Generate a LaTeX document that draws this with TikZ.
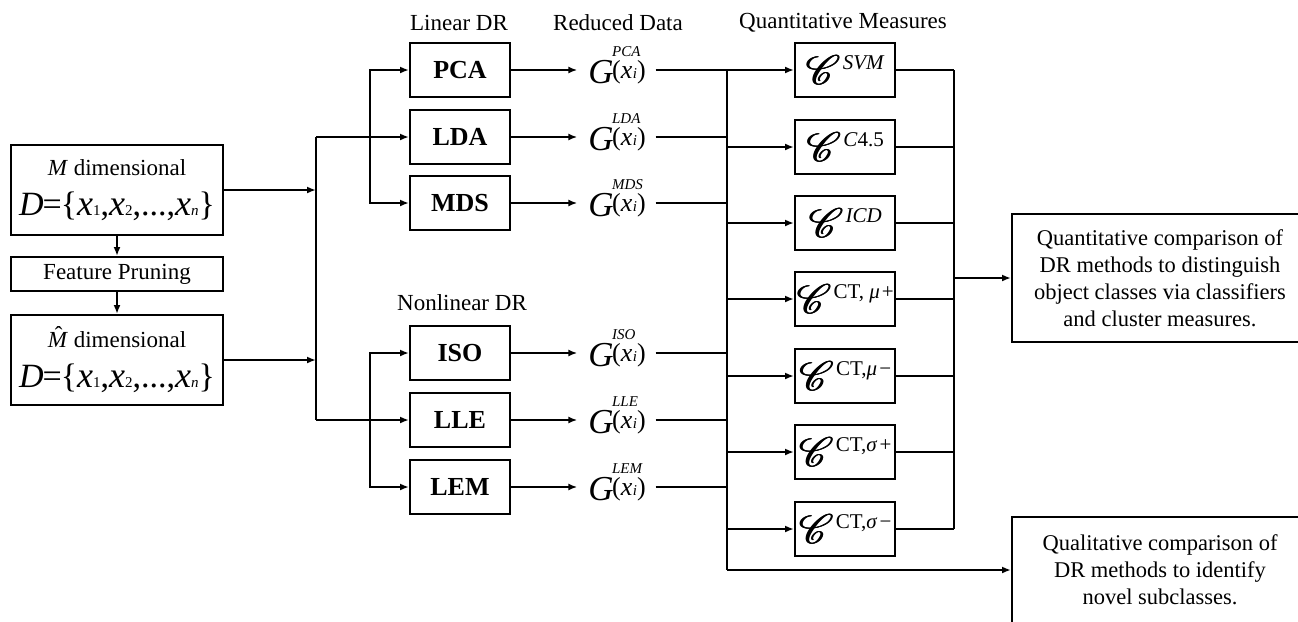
\documentclass[tikz,border=0pt]{standalone}
\usepackage{fontspec}
\setmainfont{Liberation Serif}
\usepackage{graphicx}
\usepackage{mathrsfs}
\usetikzlibrary{arrows.meta}

% reduced data term  G^{method}(x_i)
\newcommand{\Gterm}[1]{{\fontsize{35}{35}\selectfont\itshape G}\kern-1.5pt\rlap{\raisebox{27pt}{\fontsize{15}{15}\selectfont\itshape #1}}\raisebox{4.5pt}{\fontsize{26}{26}\selectfont(\textit{x}\kern0.5pt{\fontsize{15}{15}\selectfont\textit{i}})}}
% script C drawn slightly heavier
\newcommand{\Cglyph}{\scalebox{1.65}{$\mathscr{C}$}}
\newcommand{\Cbold}{\rlap{\Cglyph}\kern0.5pt\rlap{\Cglyph}\kern0.5pt\Cglyph}
% quantitative measure  C^{measure}
\newcommand{\Cterm}[1]{{\fontsize{34}{34}\selectfont\Cbold}\kern2pt\raisebox{15pt}{\fontsize{21}{21}\selectfont #1}}
% data set D = {x_1, x_2, ..., x_n}
\newcommand{\Dsub}[1]{{\fontsize{15}{15}\selectfont #1}}
\newcommand{\Dx}{{\fontsize{36}{36}\selectfont\textit{x}}}
\newcommand{\Dset}{{\fontsize{34}{34}\selectfont\textit{D}\kern-1pt=\kern-1pt\{\Dx\Dsub{1},\Dx\Dsub{2},...,\Dx\Dsub{\textit{n}}\}}}
% M with a hat
\newcommand{\Mhat}{\rlap{\kern7pt\raisebox{5pt}{ˆ}}\textit{M}}

\begin{document}
\begin{tikzpicture}[x=1pt,y=-1pt,line width=2pt,
  arr/.style={-{Latex[length=9pt,width=7pt]}},
  databox/.style={draw,minimum width=212pt,align=center,inner sep=0pt,
    font=\fontsize{23}{40}\selectfont},
  methodbox/.style={draw,minimum width=100pt,minimum height=54pt,inner sep=0pt,
    font=\fontsize{26}{26}\selectfont\bfseries},
  measurebox/.style={draw,minimum width=100pt,minimum height=54pt,inner sep=0pt},
  gterm/.style={anchor=base,inner sep=0pt},
  header/.style={font=\fontsize{23}{23}\selectfont,inner sep=0pt},
  resultbox/.style={draw,minimum width=296pt,align=center,inner sep=0pt,
    font=\fontsize{22.5}{27}\selectfont}]

\useasboundingbox (0,0) rectangle (1298,621);

% column headers
\node[header] (hlin) at (459,23) {Linear DR};
\node[header] (hred) at (618,23) {Reduced Data};
\node[header] (hqm)  at (843,23) {Quantitative Measures};
\node[header] (hnon) at (462,303) {Nonlinear DR};

% input data
\node[databox,minimum height=90pt] (mdim) at (117,190) {\textit{M} dimensional\\\Dset};
\node[databox,minimum height=34pt] (fp) at (117,274) {Feature Pruning};
\node[databox,minimum height=90pt] (mhat) at (117,360) {\Mhat{} dimensional\\\Dset};
\draw[arr] (mdim) -- (fp);
\draw[arr] (fp) -- (mhat);

% DR methods
\node[methodbox] (pca) at (460,70) {PCA};
\node[methodbox] (lda) at (460,137) {LDA};
\node[methodbox] (mds) at (460,203) {MDS};
\node[methodbox] (iso) at (460,353) {ISO};
\node[methodbox] (lle) at (460,420) {LLE};
\node[methodbox] (lem) at (460,487) {LEM};

% split buses
\coordinate (a1) at (316,137);
\coordinate (a2) at (316,420);
\coordinate (b1) at (370,137);
\draw (a1) -- (a2);
\draw[arr] (mdim.east) -- (mdim.east -| a1);
\draw[arr] (mhat.east) -- (mhat.east -| a1);
\draw[arr] (a1) -- (lda.west);
\draw[arr] (a2) -- (lle.west);
\draw[arr] (b1) |- (pca.west);
\draw[arr] (b1) |- (mds.west);
\draw[arr] (b1 |- lle.west) |- (iso.west);
\draw[arr] (b1 |- lle.west) |- (lem.west);

% reduced data
\node[gterm] (gpca) at (617,83)  {\Gterm{PCA}};
\node[gterm] (glda) at (617,150) {\Gterm{LDA}};
\node[gterm] (gmds) at (617,216) {\Gterm{MDS}};
\node[gterm] (giso) at (617,366) {\Gterm{ISO}};
\node[gterm] (glle) at (617,433) {\Gterm{LLE}};
\node[gterm] (glem) at (617,500) {\Gterm{LEM}};

\foreach \m in {pca,lda,mds,iso,lle,lem}{
  \draw[arr,shorten >=10pt] (\m.east) -- (g\m.west |- \m.east);
}

% measures
\coordinate (d1) at (727,70);
\coordinate (d2) at (727,570);
\coordinate (e1) at (954,70);
\draw (d1) -- (d2);
\foreach \m in {pca,lda,mds,iso,lle,lem}{
  \draw ([xshift=9pt]g\m.east |- \m.east) -- (d1 |- \m.east);
}

\node[measurebox] (svm) at (845,70)  {\Cterm{\textit{SVM}}};
\node[measurebox] (cfp) at (845,147) {\Cterm{\textit{C}4.5}};
\node[measurebox] (icd) at (845,223) {\Cterm{\textit{ICD}}};
\node[measurebox] (mup) at (845,299) {\Cterm{CT, \textit{μ}\kern2pt+}};
\node[measurebox] (mum) at (845,376) {\Cterm{CT,\textit{μ}\kern2pt−}};
\node[measurebox] (sgp) at (845,452) {\Cterm{CT,\textit{σ}\kern2pt+}};
\node[measurebox] (sgm) at (845,529) {\Cterm{CT,\textit{σ}\kern2pt−}};

\foreach \m in {svm,cfp,icd,mup,mum,sgp,sgm}{
  \draw[arr] (d1 |- \m.west) -- (\m.west);
  \draw (\m.east) -- (e1 |- \m.east);
}
\draw (e1) -- (e1 |- sgm.east);

% results
\node[resultbox,minimum height=128pt] (quant) at (1160,278)
  {Quantitative comparison of\\DR methods to distinguish\\object classes via classifiers\\and cluster measures.};
\node[resultbox,minimum height=106pt] (qual) at (1160,570)
  {Qualitative comparison of\\DR methods to identify\\novel subclasses.};
\draw[arr] (e1 |- quant.west) -- (quant.west);
\draw[arr] (d2) -- (qual.west);
\end{tikzpicture}
\end{document}
